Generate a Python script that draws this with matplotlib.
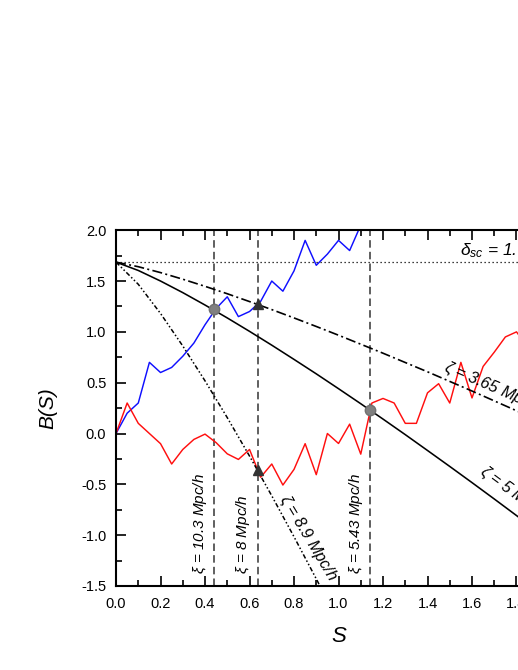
import numpy as np
import matplotlib
matplotlib.use("Agg")
import matplotlib.pyplot as plt
from matplotlib.ticker import MultipleLocator, FormatStrFormatter

plt.rcParams['font.family'] = ['Liberation Sans', 'DejaVu Sans']
plt.rcParams['mathtext.fontset'] = 'custom'
plt.rcParams['mathtext.rm'] = 'Liberation Sans'
plt.rcParams['mathtext.it'] = 'Liberation Sans:italic'

# ---- data ----
delta_sc = 1.686

blue_S = [0.00, 0.05, 0.10, 0.15, 0.20, 0.25, 0.30, 0.35, 0.40, 0.45, 0.50, 0.55,
          0.60, 0.65, 0.70, 0.75, 0.80, 0.85, 0.90, 0.95, 1.00, 1.05, 1.10]
blue_B = [0.00, 0.20, 0.30, 0.70, 0.60, 0.65, 0.76, 0.89, 1.07, 1.23, 1.345, 1.15,
          1.20, 1.30, 1.50, 1.40, 1.60, 1.90, 1.655, 1.765, 1.90, 1.80, 2.05]

red_S = [0.00, 0.05, 0.10, 0.15, 0.20, 0.25, 0.30, 0.35, 0.40, 0.45, 0.50, 0.55,
         0.60, 0.65, 0.70, 0.75, 0.80, 0.85, 0.90, 0.95, 1.00, 1.05, 1.10, 1.15,
         1.20, 1.25, 1.30, 1.35, 1.40, 1.45, 1.50, 1.55, 1.60, 1.65, 1.70, 1.75,
         1.80, 1.85]
red_B = [0.00, 0.30, 0.10, 0.00, -0.10, -0.30, -0.157, -0.058, -0.006, -0.09, -0.20, -0.255,
         -0.157, -0.43, -0.30, -0.507, -0.353, -0.10, -0.405, 0.00, -0.098, 0.092, -0.203, 0.30,
         0.345, 0.30, 0.10, 0.10, 0.40, 0.49, 0.30, 0.70, 0.35, 0.66, 0.80, 0.95,
         1.00, 0.85]

# barrier zeta = 5 Mpc/h (solid)
bar5_S = [0.0, 0.1, 0.2, 0.3, 0.4, 0.5, 0.6, 0.7, 0.8, 0.9, 1.0, 1.1, 1.2, 1.3,
          1.4, 1.5, 1.6, 1.7, 1.8, 1.9, 2.0]
bar5_B = [1.686, 1.604, 1.500, 1.386, 1.264, 1.137, 1.005, 0.869, 0.729, 0.587, 0.441,
          0.293, 0.142, -0.011, -0.167, -0.324, -0.483, -0.644, -0.807, -0.971, -1.137]

# barrier zeta = 3.65 Mpc/h (dash-dot)
bar365_S = [0.0, 0.1, 0.2, 0.3, 0.4, 0.5, 0.6, 0.7, 0.8, 0.9, 1.0, 1.2, 1.4, 1.6, 1.8, 2.0]
bar365_B = [1.686, 1.641, 1.583, 1.518, 1.448, 1.375, 1.298, 1.219, 1.137, 1.053, 0.967,
            0.790, 0.607, 0.418, 0.224, 0.026]

# barrier zeta = 8.9 Mpc/h (dash-dot-dot)
bar89_S = [0.0, 0.1, 0.2, 0.3, 0.4, 0.5, 0.6, 0.7, 0.8, 0.9, 1.0]
bar89_B = [1.686, 1.468, 1.181, 0.861, 0.518, 0.156, -0.222, -0.613, -1.016, -1.430, -1.854]

# first-crossing scales
vline_S = [0.442, 0.637, 1.142]
vline_labels = [r"$\xi$ = 10.3 Mpc/h", r"$\xi$ = 8 Mpc/h", r"$\xi$ = 5.43 Mpc/h"]

circle_S = [0.442, 1.142]
circle_B = [1.22, 0.23]
tri_S = [0.637, 0.637]
tri_B = [1.27, -0.36]

# ---- figure ----
fig = plt.figure(figsize=(5.18, 6.70), dpi=100)
ax = fig.add_axes([0.224, 0.1254, 0.859, 0.531])
ax.set_xlim(0, 2.0)
ax.set_ylim(-1.5, 2.0)

ax.axhline(delta_sc, color='black', lw=0.9, ls=(0, (1, 2.2)))
for s in vline_S:
    ax.axvline(s, color='#444444', lw=1.2, ls=(0, (4.5, 2.5)))

ax.plot(blue_S, blue_B, color='#0f0fff', lw=1.05)
ax.plot(red_S, red_B, color='#ff0f0f', lw=1.05)

ax.plot(bar5_S, bar5_B, color='black', lw=1.15, ls='-')
ax.plot(bar365_S, bar365_B, color='black', lw=1.2, ls=(0, (6, 2, 1.2, 2)))
ax.plot(bar89_S, bar89_B, color='black', lw=1.1, ls=(0, (3, 1.5, 1, 1.5, 1, 1.5)))

ax.plot(circle_S, circle_B, 'o', color='#808080', ms=7.5, mec='#707070', zorder=5)
ax.plot(tri_S, tri_B, '^', color='#333333', ms=7.5, zorder=5)

# labels on the lines
ax.text(1.545, 1.80, r"$\delta_{sc}$ = 1.686", fontsize=12.5, style='italic',
        ha='left', va='center')
ax.text(1.46, 0.575, r"$\zeta$ = 3.65 Mpc/h", fontsize=11.5, style='italic',
        rotation=-23.5, rotation_mode='anchor', ha='left', va='bottom')
ax.text(1.62, -0.43, r"$\zeta$ = 5 Mpc/h", fontsize=11.5, style='italic',
        rotation=-36.5, rotation_mode='anchor', ha='left', va='bottom')
ax.text(0.715, -0.66, r"$\zeta$ = 8.9 Mpc/h", fontsize=11.5, style='italic',
        rotation=-59, rotation_mode='anchor', ha='left', va='bottom')
for s, lab in zip(vline_S, vline_labels):
    ax.text(s - 0.025, -1.38, lab, fontsize=11, style='italic', rotation=90,
            ha='right', va='bottom')

ax.set_xlabel("S", fontsize=16, style='italic', labelpad=11)
ax.set_ylabel("B(S)", fontsize=15, style='italic', labelpad=17)

ax.xaxis.set_major_locator(MultipleLocator(0.2))
ax.xaxis.set_minor_locator(MultipleLocator(0.1))
ax.yaxis.set_major_locator(MultipleLocator(0.5))
ax.yaxis.set_minor_locator(MultipleLocator(0.25))
ax.xaxis.set_major_formatter(FormatStrFormatter('%.1f'))
ax.yaxis.set_major_formatter(FormatStrFormatter('%.1f'))
ax.tick_params(which='both', direction='in', top=True, right=True, width=1.2,
               labelsize=10.5)
ax.tick_params(axis='x', which='major', pad=8)
ax.tick_params(axis='y', which='major', pad=7)
ax.tick_params(which='major', length=7)
ax.tick_params(which='minor', length=4.5)
for sp in ax.spines.values():
    sp.set_linewidth(1.5)

fig.savefig("out.png", dpi=100)
